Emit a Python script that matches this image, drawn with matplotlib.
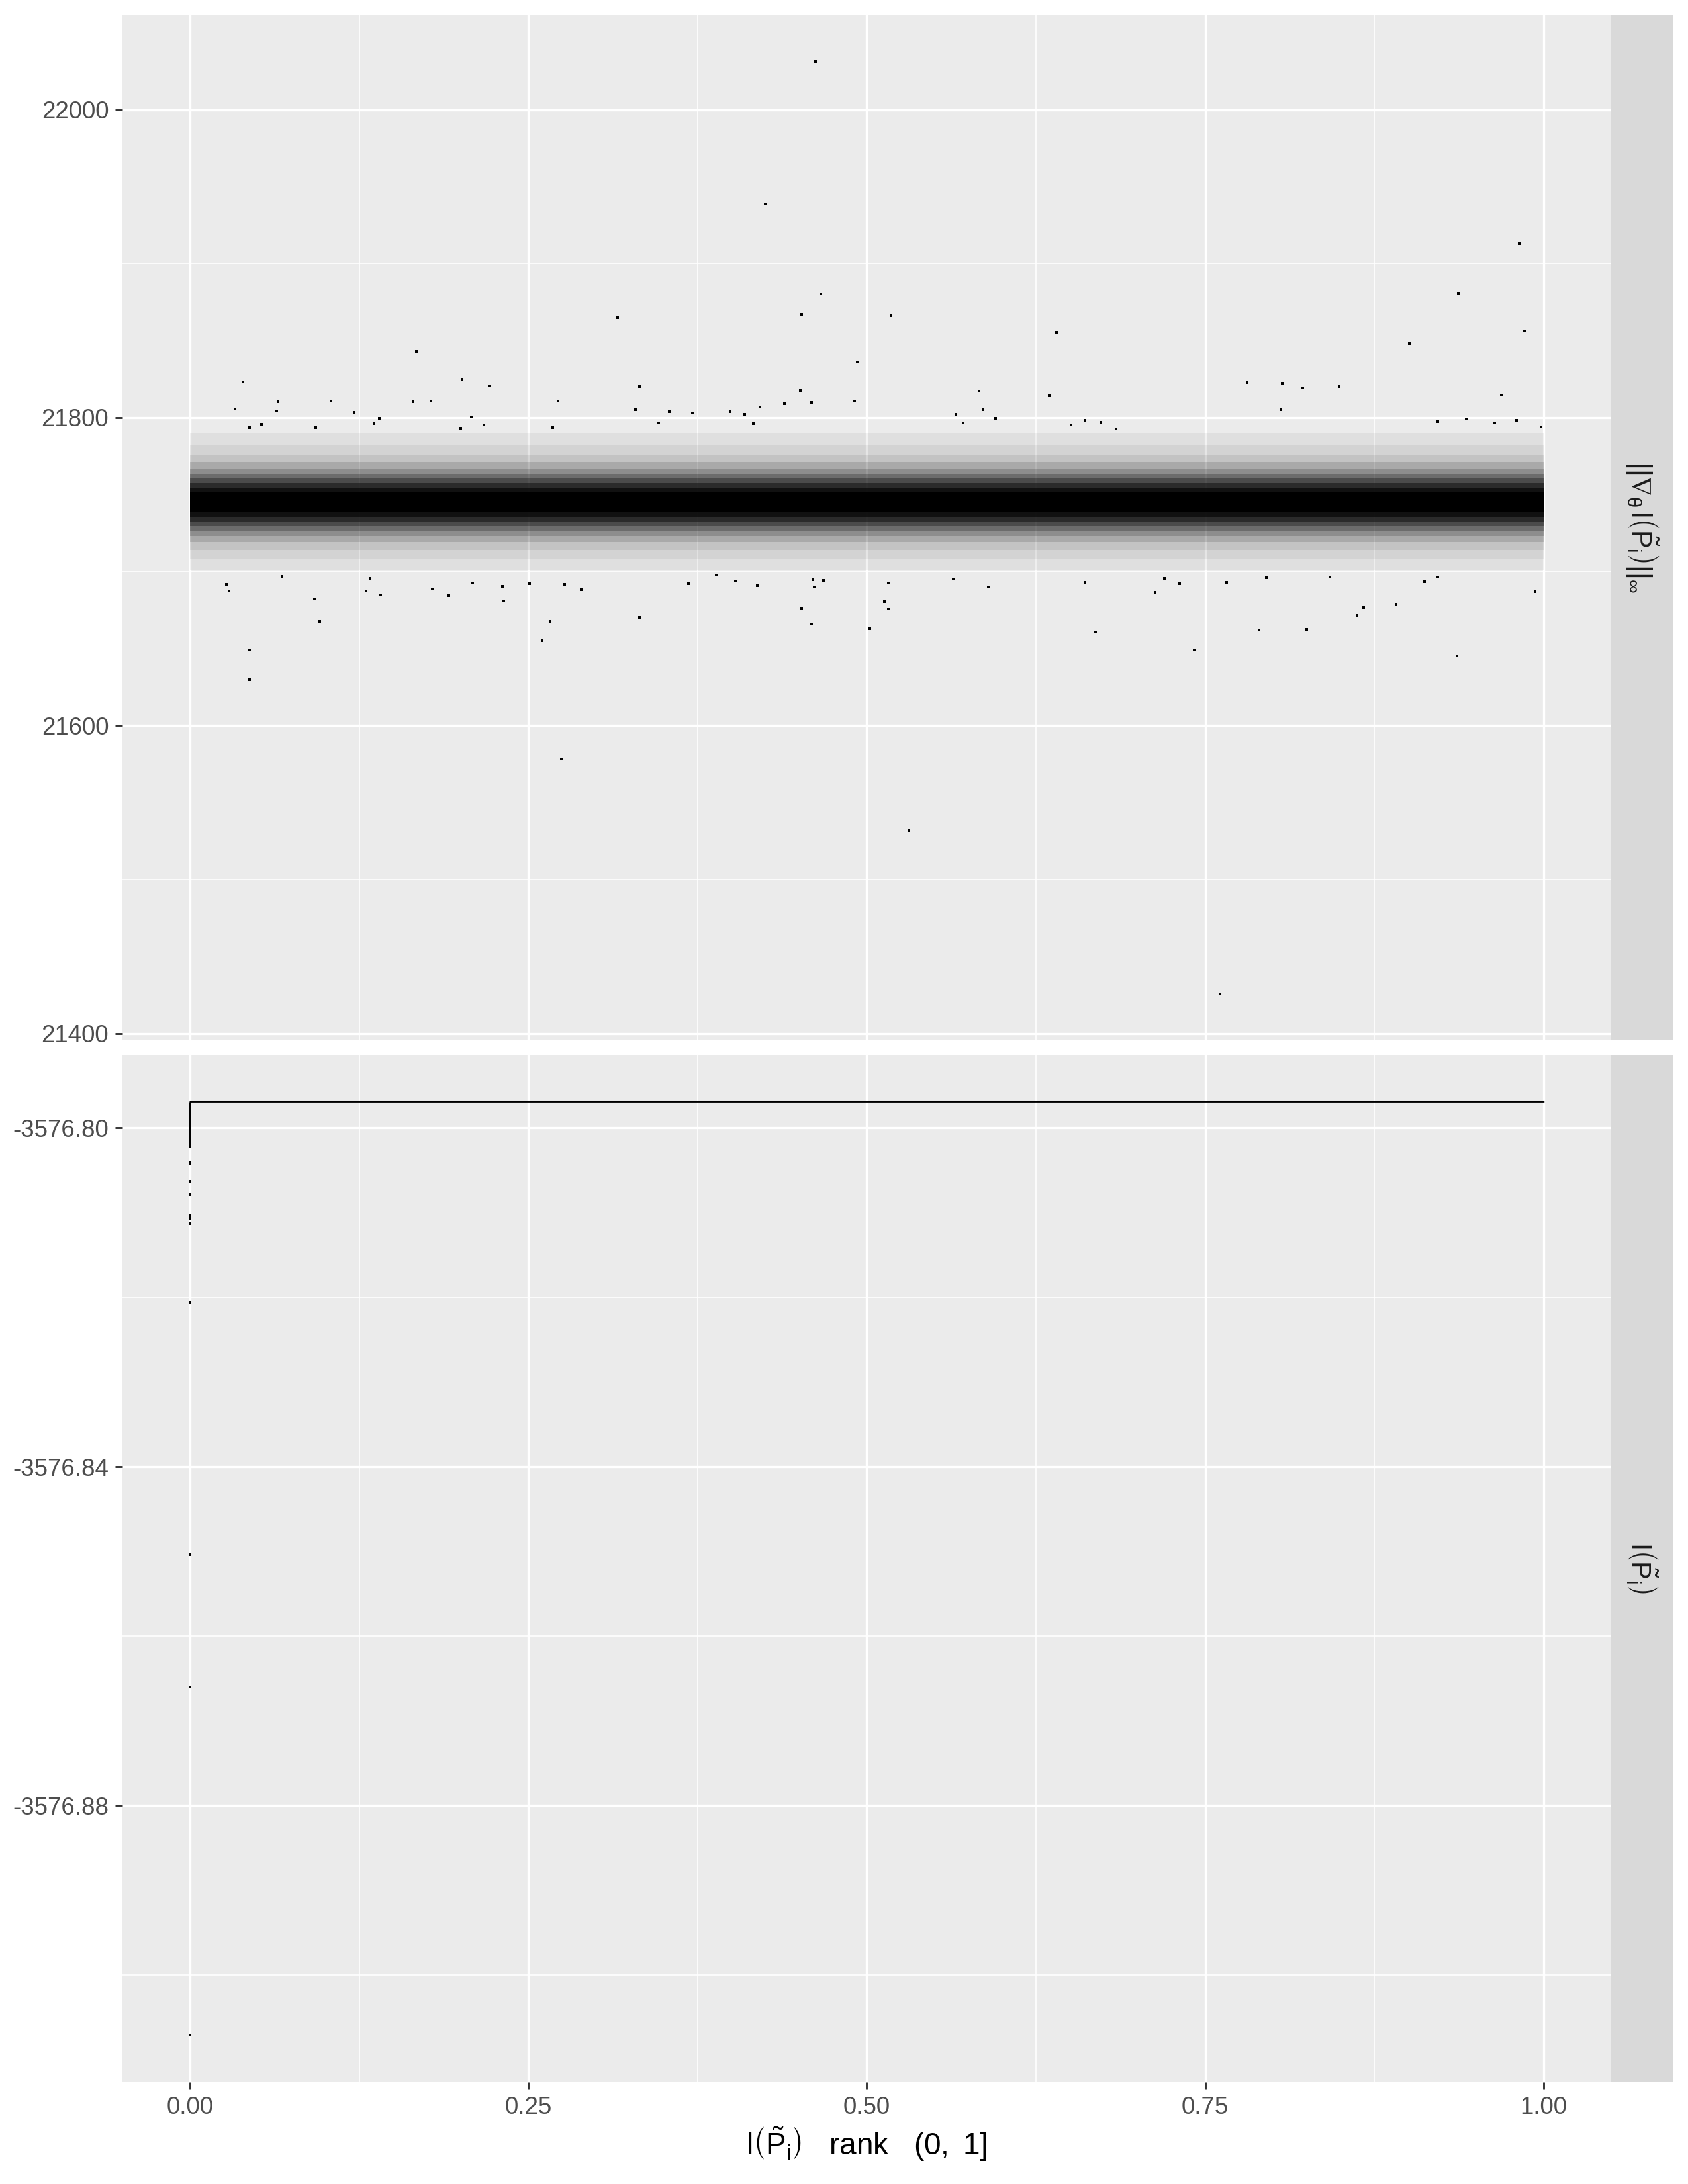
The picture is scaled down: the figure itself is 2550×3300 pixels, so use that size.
import matplotlib
matplotlib.use("Agg")
import matplotlib.pyplot as plt

plt.rcParams["font.family"] = ["Liberation Sans", "DejaVu Sans"]
plt.rcParams["mathtext.fontset"] = "custom"
plt.rcParams["mathtext.rm"] = "Liberation Sans"
plt.rcParams["mathtext.it"] = "Liberation Sans"
plt.rcParams["mathtext.bf"] = "Liberation Sans:bold"
plt.rcParams["mathtext.sf"] = "Liberation Sans"
plt.rcParams["mathtext.fallback"] = "stixsans"

# ---- top panel: ||grad l||_inf against rank --------------------------------
# the bulk of the points forms a solid band; kept as nested envelope levels
# (innermost = solid core, outermost = last sparse dots), same across x
band_x  = [0.0, 1.0]
band_lo = [21738.5, 21735.5, 21732.5, 21729.5, 21726.5, 21723.0, 21719.0, 21714.0, 21708.0, 21701.0]
band_hi = [21751.5, 21754.5, 21757.5, 21760.5, 21763.5, 21767.0, 21771.0, 21776.0, 21782.0, 21790.0]

# the scattered points that stand apart from the band
grad_x = [0.462, 0.425, 0.982, 0.466, 0.937, 0.316, 0.452, 0.518, 0.640, 0.986,
          0.901, 0.167, 0.493, 0.039, 0.201, 0.221, 0.332, 0.451, 0.781, 0.807,
          0.822, 0.849, 0.583, 0.635, 0.969, 0.065, 0.104, 0.165, 0.178, 0.272,
          0.459, 0.491, 0.439, 0.421, 0.033, 0.064, 0.121, 0.329, 0.354, 0.371,
          0.399, 0.410, 0.806, 0.586, 0.566, 0.208, 0.140, 0.595, 0.571, 0.943,
          0.922, 0.964, 0.980, 0.998, 0.661, 0.673, 0.651, 0.684, 0.044, 0.053,
          0.093, 0.136, 0.200, 0.217, 0.268, 0.346, 0.416,
          0.2745, 0.531, 0.761, 0.044, 0.044, 0.096, 0.092, 0.027, 0.029, 0.068,
          0.133, 0.130, 0.141, 0.179, 0.191, 0.209, 0.231, 0.232, 0.266, 0.260,
          0.251, 0.277, 0.289, 0.332, 0.368, 0.389, 0.403, 0.419, 0.452, 0.459,
          0.460, 0.461, 0.468, 0.502, 0.513, 0.516, 0.516, 0.564, 0.590, 0.661,
          0.669, 0.713, 0.720, 0.731, 0.742, 0.766, 0.790, 0.795, 0.825, 0.842,
          0.862, 0.867, 0.891, 0.912, 0.922, 0.936, 0.994]
grad_y = [22031.4, 21938.6, 21913.1, 21880.2, 21880.9, 21865.1, 21867.1, 21866.0, 21855.6, 21856.4,
          21848.2, 21843.1, 21836.2, 21823.0, 21825.0, 21820.8, 21820.0, 21817.6, 21822.8, 21822.3,
          21819.3, 21820.3, 21817.3, 21814.3, 21814.6, 21810.3, 21810.8, 21810.3, 21810.8, 21810.8,
          21809.9, 21810.8, 21809.1, 21806.9, 21805.6, 21804.3, 21803.4, 21805.0, 21804.0, 21803.1,
          21804.0, 21802.3, 21805.0, 21805.0, 21802.3, 21800.6, 21799.7, 21799.7, 21796.7, 21799.2,
          21797.6, 21796.4, 21798.1, 21794.1, 21798.1, 21797.1, 21795.4, 21792.9, 21793.4, 21795.9,
          21793.4, 21796.2, 21793.1, 21795.4, 21793.7, 21796.7, 21796.2,
          21578.3, 21531.9, 21425.8, 21649.3, 21629.6, 21667.5, 21682.2, 21691.5, 21687.4, 21696.7,
          21695.7, 21687.4, 21684.8, 21688.5, 21684.4, 21692.4, 21690.5, 21680.9, 21667.5, 21655.2,
          21692.2, 21691.7, 21688.3, 21670.1, 21692.2, 21697.6, 21693.9, 21690.9, 21676.2, 21666.0,
          21694.6, 21690.0, 21694.1, 21662.7, 21680.5, 21675.9, 21692.6, 21695.0, 21689.8, 21693.1,
          21660.8, 21686.6, 21695.7, 21692.2, 21649.3, 21693.1, 21662.1, 21695.9, 21662.5, 21696.3,
          21671.6, 21676.8, 21678.8, 21693.5, 21696.3, 21645.2, 21686.8]

# ---- bottom panel: l(P) against rank ---------------------------------------
loglik_line_x = [0.0, 0.0, 0.0004, 1.0]
loglik_line_y = [-3576.8022, -3576.7972, -3576.7969, -3576.7969]
loglik_pt_x = [0.0] * 19
loglik_pt_y = [-3576.7975, -3576.7981, -3576.7992, -3576.8004, -3576.8010, -3576.8013,
               -3576.8017, -3576.8022, -3576.8041, -3576.8043, -3576.8063, -3576.8079,
               -3576.8104, -3576.8107, -3576.8113, -3576.8206, -3576.8504, -3576.8660,
               -3576.9071]

x_major = [0.0, 0.25, 0.5, 0.75, 1.0]
x_minor = [0.125, 0.375, 0.625, 0.875]
x_labels = ["0.00", "0.25", "0.50", "0.75", "1.00"]

top_major = [21400, 21600, 21800, 22000]
top_minor = [21500, 21700, 21900]
bot_major = [-3576.88, -3576.84, -3576.80]
bot_minor = [-3576.90, -3576.86, -3576.82]
bot_labels = ["-3576.88", "-3576.84", "-3576.80"]

strip_top = r"$||\nabla_{\theta}\,l\left(\tilde{P}_{i}\right)||_{\infty}$"
strip_bot = r"$l\left(\tilde{P}_{i}\right)$"
x_title = r"$l\left(\tilde{P}_{i}\right)$   rank   $(0,\ 1]$"

PANEL_BG = "#EBEBEB"
STRIP_BG = "#D9D9D9"
# how dark each ring of the band looks (point density), inside -> out
RING_SHADE = [1.0, 0.93, 0.82, 0.68, 0.54, 0.40, 0.28, 0.17, 0.10, 0.05]


def expand(lo, hi, frac=0.05):
    pad = (hi - lo) * frac
    return lo - pad, hi + pad


def style_panel(ax, major, minor, labels, show_x):
    ax.set_facecolor(PANEL_BG)
    for s in ax.spines.values():
        s.set_visible(False)
    ax.set_axisbelow(True)
    ax.set_xlim(-0.05, 1.05)
    ax.set_xticks(x_major)
    ax.set_xticks(x_minor, minor=True)
    ax.set_yticks(major)
    ax.set_yticks(minor, minor=True)
    ax.set_yticklabels(labels)
    ax.grid(which="major", color="white", linewidth=0.8)
    ax.grid(which="minor", color="white", linewidth=0.4)
    ax.tick_params(which="minor", length=0)
    ax.tick_params(which="major", length=2.75, width=0.7, color="#333333",
                   labelsize=8.8, labelcolor="#4D4D4D", pad=2.2)
    if show_x:
        ax.set_xticklabels(x_labels)
    else:
        ax.tick_params(axis="x", which="major", length=0, labelbottom=False)


def add_strip(fig, rect, text):
    sax = fig.add_axes(rect)
    sax.set_facecolor(STRIP_BG)
    sax.set_xticks([])
    sax.set_yticks([])
    for s in sax.spines.values():
        s.set_visible(False)
    sax.text(0.5, 0.5, text, rotation=-90, ha="center", va="center",
             fontsize=10, color="#1A1A1A", transform=sax.transAxes)


def draw_band(ax):
    n = len(band_lo)
    xs = band_x
    ax.fill_between(xs, [band_lo[0]] * 2, [band_hi[0]] * 2,
                    color="black", alpha=RING_SHADE[0], linewidth=0)
    for k in range(1, n):
        ax.fill_between(xs, [band_lo[k]] * 2, [band_lo[k - 1]] * 2,
                        color="black", alpha=RING_SHADE[k], linewidth=0)
        ax.fill_between(xs, [band_hi[k - 1]] * 2, [band_hi[k]] * 2,
                        color="black", alpha=RING_SHADE[k], linewidth=0)


def make_plot(out_path):
    fig = plt.figure(figsize=(8.5, 11), dpi=300)

    left, width = 0.0725, 0.882
    strip_w = 0.0365
    top_rect = [left, 0.5236, width, 0.4697]
    bot_rect = [left, 0.0467, width, 0.4703]

    ax_top = fig.add_axes(top_rect)
    ax_bot = fig.add_axes(bot_rect)

    # top panel
    draw_band(ax_top)
    ax_top.plot(grad_x, grad_y, linestyle="none", marker="s", markersize=0.9,
                markeredgewidth=0, color="black")
    ax_top.set_ylim(*expand(min(grad_y), max(grad_y)))
    style_panel(ax_top, top_major, top_minor, [str(v) for v in top_major], False)

    # bottom panel
    ax_bot.plot(loglik_line_x, loglik_line_y, color="black", linewidth=0.7)
    ax_bot.plot(loglik_pt_x, loglik_pt_y, linestyle="none", marker="s", markersize=0.9,
                markeredgewidth=0, color="black")
    ax_bot.set_ylim(*expand(min(loglik_pt_y), max(loglik_line_y)))
    style_panel(ax_bot, bot_major, bot_minor, bot_labels, True)

    add_strip(fig, [left + width, top_rect[1], strip_w, top_rect[3]], strip_top)
    add_strip(fig, [left + width, bot_rect[1], strip_w, bot_rect[3]], strip_bot)

    fig.text(left + width / 2, 0.0185, x_title, ha="center", va="center",
             fontsize=11, color="black")

    fig.savefig(out_path, dpi=300)
    print(f"Plot saved to {out_path}")


if __name__ == "__main__":
    make_plot("out.png")
